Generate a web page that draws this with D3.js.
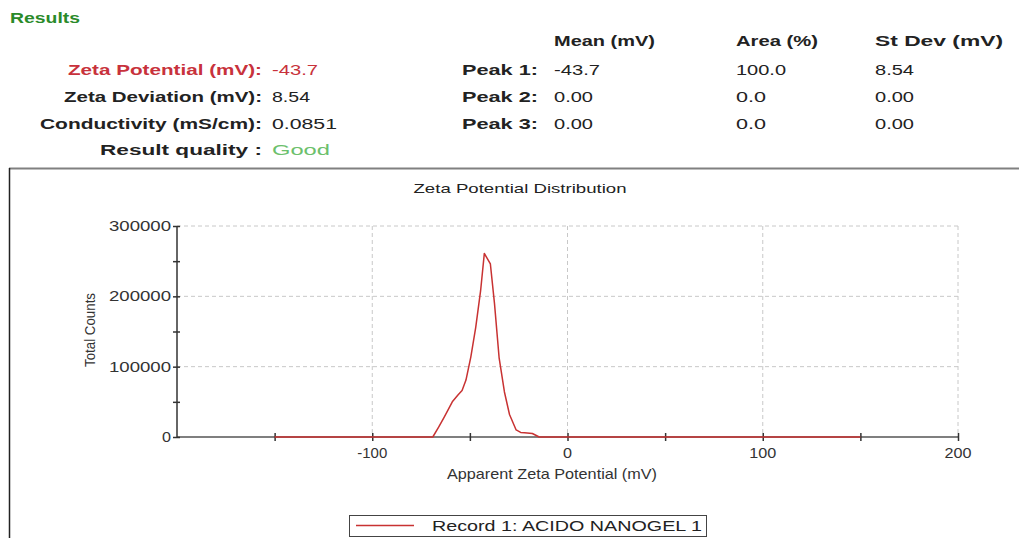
<!DOCTYPE html>
<html><head><meta charset="utf-8">
<script src="https://cdn.jsdelivr.net/npm/d3@7"></script>
<style>html,body{margin:0;padding:0;background:#fff;}svg{display:block;font-family:"Liberation Sans",Arial,sans-serif;}</style>
</head><body><svg id="c" width="1019" height="538"></svg>
<script>
// ---- data ----
const potential = [-150, -69, -66, -63, -59, -56, -54, -52, -49.5, -47, -44.5, -42.6, -39.5, -37.4, -35, -32.3, -29.7, -26.3, -24, -22, -18, -14.5, 150];
const totalCounts = [0, 0, 14000, 29000, 50000, 60000, 66000, 81000, 114000, 156000, 208000, 261000, 246000, 190000, 112000, 64000, 32000, 10000, 6500, 6000, 5000, 0, 0];
const xTicks = [-100, 0, 100, 200];
const xMinorTicks = [-150, -100, -50, 0, 50, 100, 150, 200];
const yTicks = [0, 100000, 200000, 300000];
const yMinorTicks = [50000, 150000, 250000];
const seriesName = "Record 1: ACIDO NANOGEL 1";
const summaryLabels = ["Zeta Potential (mV):", "Zeta Deviation (mV):", "Conductivity (mS/cm):", "Result quality :"];
const summaryValues = ["-43.7", "8.54", "0.0851", "Good"];
const peakLabels = ["Peak 1:", "Peak 2:", "Peak 3:"];
const peakColumns = ["Mean (mV)", "Area (%)", "St Dev (mV)"];
const peakMean = ["-43.7", "0.00", "0.00"];
const peakArea = ["100.0", "0.0", "0.0"];
const peakStdev = ["8.54", "0.00", "0.00"];

const svg = d3.select("#c");
function txt(x, y, s, o) {
  o = o || {};
  const t = svg.append("text").attr("x", x).attr("y", y).text(s)
    .attr("font-size", o.size || 14).attr("font-weight", o.weight || "normal")
    .attr("fill", o.fill || "#222").attr("text-anchor", o.anchor || "start");
  if (o.len) t.attr("textLength", o.len).attr("lengthAdjust", "spacingAndGlyphs");
  if (o.rotate) t.attr("transform", `rotate(${o.rotate},${x},${y})`);
  return t;
}

// ---- header ----
txt(10, 23, "Results", {size: 15, weight: "bold", fill: "#2a8a2a", len: 70});
const colX = [554, 736, 875];
const colW = [101, 82, 128];
peakColumns.forEach((c, i) => txt(colX[i], 46, c, {size: 14.5, weight: "bold", len: colW[i]}));
const rowY = [75, 102, 129, 155];
const labW = [194, 198, 222, 162];
const valW = [46, 38, 65, 58];
summaryLabels.forEach((l, i) => txt(262, rowY[i], l, {size: 14.5, weight: "bold", anchor: "end", len: labW[i], fill: i === 0 ? "#c8323c" : "#222"}));
summaryValues.forEach((v, i) => txt(272, rowY[i], v, {size: 14.5, len: valW[i], fill: i === 0 ? "#c8323c" : (i === 3 ? "#6cc06c" : "#222")}));
peakLabels.forEach((l, i) => txt(538, rowY[i], l, {size: 14.5, weight: "bold", anchor: "end", len: 76}));
const wFor = s => s.length === 5 ? 50 : (s.length === 4 ? 39 : 30);
[peakMean, peakArea, peakStdev].forEach((arr, c) => arr.forEach((v, i) => txt(colX[c], rowY[i], v, {size: 14.5, len: v === "-43.7" ? 46 : wFor(v)})));

// ---- panel box ----
svg.append("line").attr("x1", 9).attr("x2", 1019).attr("y1", 168.5).attr("y2", 168.5).attr("stroke", "#808080").attr("stroke-width", 2);
svg.append("line").attr("x1", 9.5).attr("x2", 9.5).attr("y1", 168).attr("y2", 538).attr("stroke", "#222").attr("stroke-width", 1.5);

// ---- chart ----
const x = d3.scaleLinear().domain([-200, 200]).range([177, 958]);
const y = d3.scaleLinear().domain([0, 300000]).range([437, 226]);

txt(520, 193, "Zeta Potential Distribution", {size: 13.5, anchor: "middle", len: 213});

const grid = svg.append("g").attr("stroke", "#c8c8c8").attr("stroke-dasharray", "4,3").attr("stroke-width", 1);
xTicks.forEach(v => grid.append("line").attr("x1", x(v)).attr("x2", x(v)).attr("y1", y(300000)).attr("y2", y(0)));
yTicks.filter(v => v > 0).forEach(v => grid.append("line").attr("x1", x(-200)).attr("x2", x(200)).attr("y1", y(v)).attr("y2", y(v)));

// x axis
const xAxis = d3.axisBottom(x).tickValues(xMinorTicks).tickSize(0).tickFormat("");
const gx = svg.append("g").attr("transform", `translate(0,${y(0)})`).call(xAxis);
gx.select(".domain").attr("stroke", "#555").attr("stroke-width", 1.5).attr("d", `M${x(-200)},0H${x(200)}`);
gx.selectAll(".tick line").attr("y1", -4).attr("y2", 4).attr("stroke", "#333").attr("stroke-width", 1.5);
xTicks.forEach(v => txt(x(v), 458, String(v), {size: 14.5, anchor: "middle", fill: "#333", len: v === 0 ? 9 : (v < 0 ? 30 : 27)}));

// y axis
const yAxis = d3.axisLeft(y).tickValues(yTicks.concat(yMinorTicks)).tickSize(0).tickFormat("");
const gy = svg.append("g").attr("transform", `translate(${x(-200)},0)`).call(yAxis);
gy.select(".domain").attr("stroke", "#333").attr("stroke-width", 1.5).attr("d", `M0,${y(300000)}V${y(0)}`);
gy.selectAll(".tick line").attr("x1", -4).attr("x2", 3).attr("stroke", "#333").attr("stroke-width", 1.5);
yTicks.forEach(v => txt(171, y(v) + 5, String(v), {size: 14.5, anchor: "end", fill: "#333", len: v === 0 ? 9 : 62}));

txt(95, 330, "Total Counts", {size: 15, anchor: "middle", fill: "#333", rotate: -90, len: 74});
txt(552, 479, "Apparent Zeta Potential (mV)", {size: 15, anchor: "middle", fill: "#333", len: 210});

// series
const line = d3.line().x((d, i) => x(potential[i])).y(d => y(d));
svg.append("path").datum(totalCounts).attr("d", line).attr("fill", "none").attr("stroke", "#c83232").attr("stroke-width", 1.5).attr("stroke-linejoin", "round");

// legend
svg.append("rect").attr("x", 349.5).attr("y", 515.5).attr("width", 357).attr("height", 21).attr("fill", "#fff").attr("stroke", "#444").attr("stroke-width", 1);
svg.append("line").attr("x1", 356).attr("x2", 414).attr("y1", 525.5).attr("y2", 525.5).attr("stroke", "#c83232").attr("stroke-width", 1.5);
txt(432, 531, seriesName, {size: 15, fill: "#222", len: 270});
</script></body></html>
